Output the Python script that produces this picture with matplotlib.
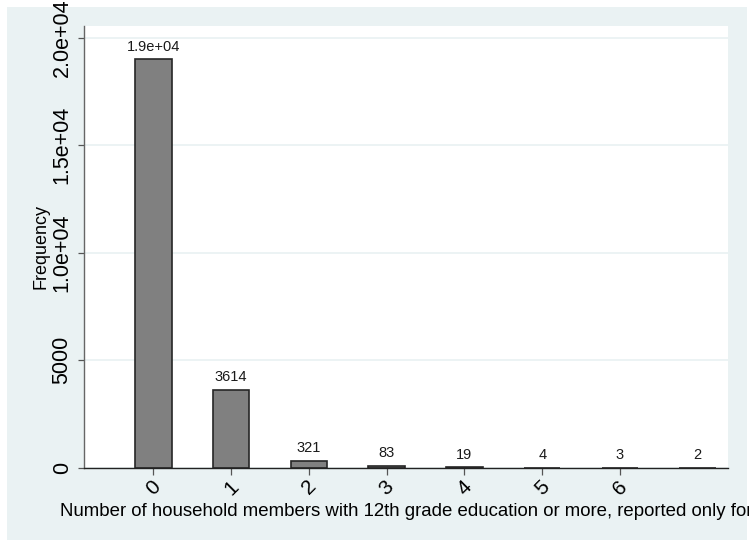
import matplotlib
matplotlib.use("Agg")
import matplotlib.pyplot as plt
from matplotlib.patches import Rectangle

# histogram counts
members = [0, 1, 2, 3, 4, 5, 6, 7]
counts = [19000, 3614, 321, 83, 19, 4, 3, 2]
count_labels = ["1.9e+04", "3614", "321", "83", "19", "4", "3", "2"]
xtick_values = [0, 1, 2, 3, 4, 5, 6]
ytick_values = [0, 5000, 10000, 15000, 20000]
ytick_labels = ["0", "5000", "1.0e+04", "1.5e+04", "2.0e+04"]

plt.rcParams['font.family'] = ['Liberation Sans', 'DejaVu Sans']

W, H = 749, 543
fig = plt.figure(figsize=(W / 100, H / 100), dpi=100, facecolor='white')

# light stata-like graph region with a thin white border
fig.add_artist(Rectangle((7 / W, 3 / H), 740 / W, 533 / H, transform=fig.transFigure,
                         facecolor='#EAF2F3', edgecolor='none', zorder=-1))

ax = fig.add_axes([83.5 / W, (H - 467.7) / H, 644.5 / W, 441.7 / H])
ax.set_facecolor('white')

ax.bar(members, counts, width=0.47, color='#808080', edgecolor='#262626', linewidth=1.2, zorder=3)
for x, c, lab in zip(members, counts, count_labels):
    ax.annotate(lab, (x, c), xytext=(0, 4), textcoords='offset points',
                ha='center', va='bottom', fontsize=10.5, color='#1a1a1a')

ax.set_xlim(-0.9, 7.39)
ax.set_ylim(0, 20540)

ax.set_yticks(ytick_values)
ax.set_yticklabels(ytick_labels, rotation=90, va='center', fontsize=15.5)
ax.set_xticks(xtick_values)
ax.set_xticklabels([str(v) for v in xtick_values], rotation=45, ha='center', va='top', fontsize=15)
ax.tick_params(axis='y', length=4.3, width=0.9, color='#555555', pad=3.5)
ax.tick_params(axis='x', length=5, width=0.9, color='#555555', pad=1.5)

ax.grid(axis='y', color='#EAF2F3', linewidth=1.3, zorder=0)
ax.set_axisbelow(True)

for side in ['top', 'right']:
    ax.spines[side].set_visible(False)
ax.spines['left'].set_color('#666666')
ax.spines['left'].set_linewidth(1.0)
ax.spines['bottom'].set_color('#222222')
ax.spines['bottom'].set_linewidth(1.0)
ax.spines['bottom'].set_zorder(4)

ax.set_ylabel('Frequency', fontsize=13)
ax.yaxis.set_label_coords(-0.0535, 0.5)
ax.set_xlabel('Number of household members with 12th grade education or more, reported only for',
              fontsize=13.4)
ax.xaxis.set_label_coords(0.5, -0.079)

fig.savefig('out.png', dpi=100)
